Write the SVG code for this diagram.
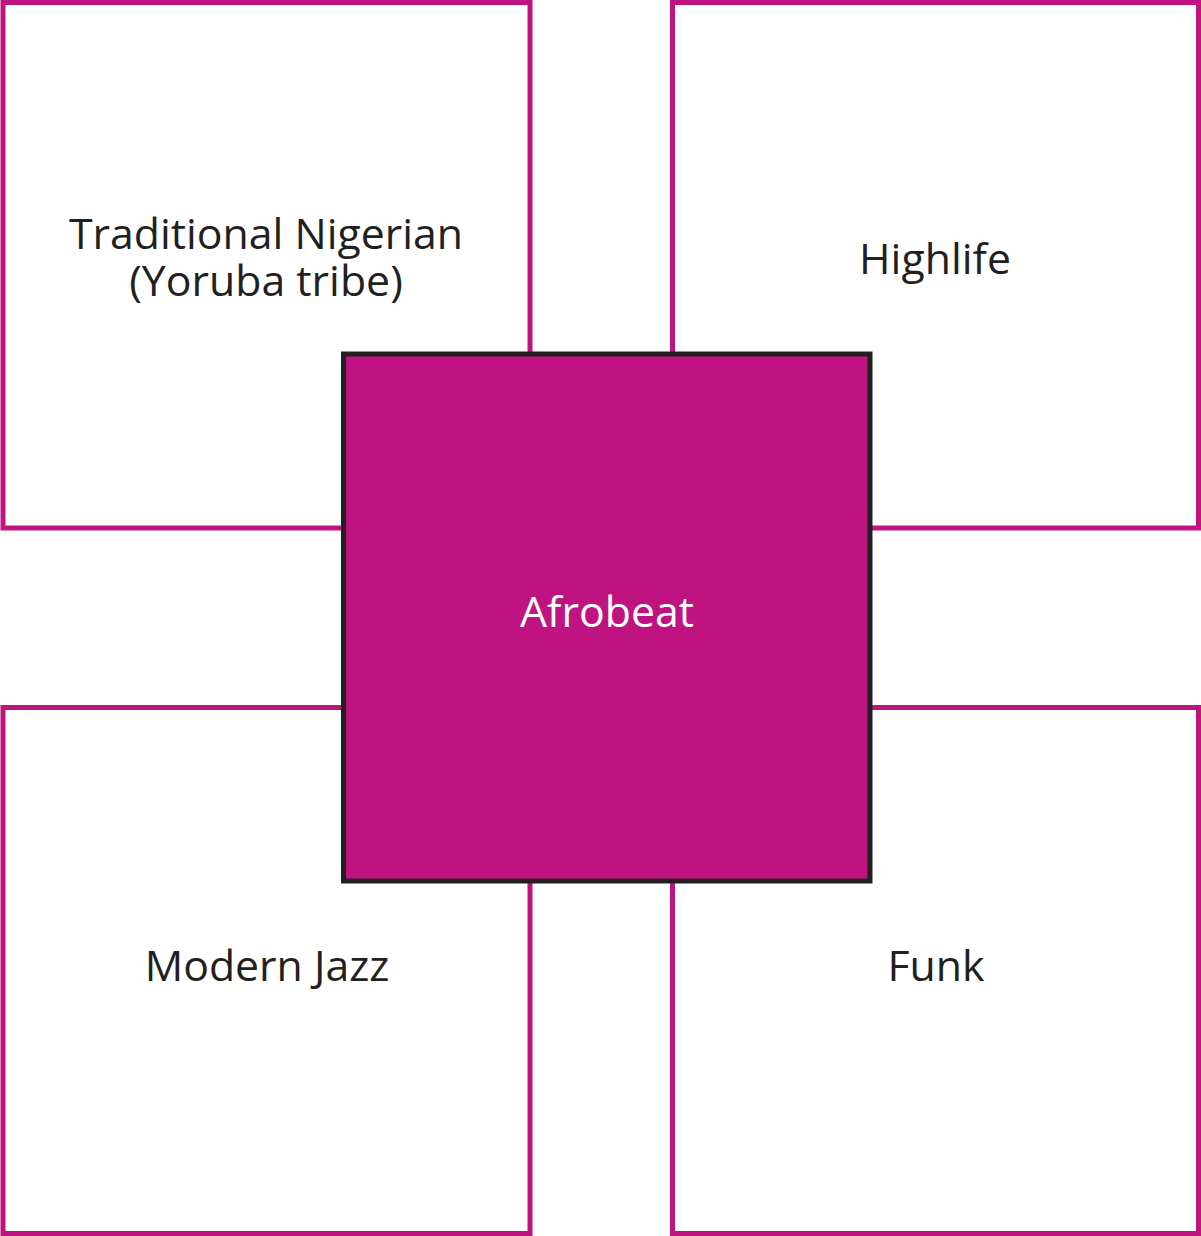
<svg xmlns="http://www.w3.org/2000/svg" width="1201" height="1236" viewBox="0 0 1201 1236">
<style>
.outer{fill:#fff;stroke:#BE1480;stroke-width:5}
.center{fill:#BE1380;stroke:#231F20;stroke-width:5}
.lbl{font-family:"Open Sans","Noto Sans",sans-serif;font-size:42.8px;fill:#231F20;text-anchor:middle}
.clbl{font-family:"Open Sans","Noto Sans",sans-serif;font-size:42.8px;fill:#fff;text-anchor:middle}
</style>
<rect width="1201" height="1236" fill="#fff"/>
<g id="connectors"></g>
<g id="traditional">
<rect class="outer" x="3" y="2.5" width="527" height="525.5"/>
<text class="lbl" x="266" y="249"><tspan x="266">Traditional Nigerian</tspan><tspan x="266" dy="47">(Yoruba tribe)</tspan></text>
</g>
<g id="highlife">
<rect class="outer" x="672.5" y="2.5" width="526" height="525.5"/>
<text class="lbl" x="935" y="274">Highlife</text>
</g>
<g id="modernjazz">
<rect class="outer" x="3" y="707.5" width="527" height="526"/>
<text class="lbl" x="267" y="981">Modern Jazz</text>
</g>
<g id="funk">
<rect class="outer" x="672.5" y="707.5" width="526" height="526"/>
<text class="lbl" x="936" y="981">Funk</text>
</g>
<g id="afrobeat">
<rect class="center" x="343.5" y="354" width="526.5" height="527"/>
<text class="clbl" x="607" y="627">Afrobeat</text>
</g>
</svg>
